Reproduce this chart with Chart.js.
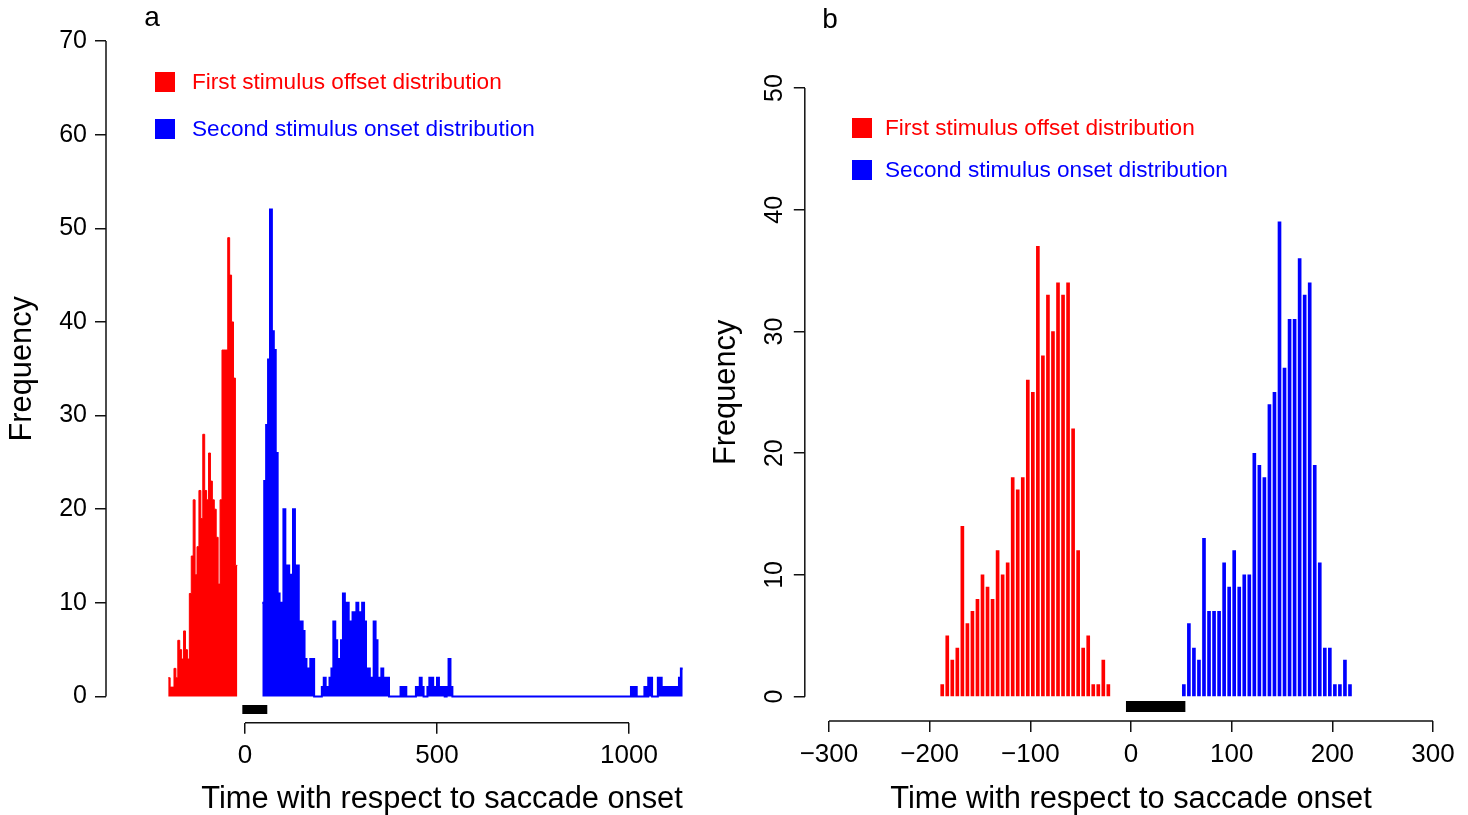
<!DOCTYPE html>
<html><head><meta charset="utf-8">
<script src="https://cdn.jsdelivr.net/npm/chart.js@4.4.1/dist/chart.umd.min.js"></script>
<style>
html,body{margin:0;padding:0;background:#fff;width:1468px;height:815px;overflow:hidden;}
#wa{position:absolute;left:0;top:0;width:700px;height:815px;}
#wb{position:absolute;left:700px;top:0;width:768px;height:815px;}
canvas{display:block;}
</style></head><body>
<div id="wa"><canvas id="ca" width="700" height="815"></canvas></div>
<div id="wb"><canvas id="cb" width="768" height="815"></canvas></div>
<script>
// ---------------- data ----------------
const LABEL_RED = 'First stimulus offset distribution';
const LABEL_BLUE = 'Second stimulus onset distribution';
const X_TITLE = 'Time with respect to saccade onset';
const Y_TITLE = 'Frequency';

// Panel a : histogram, 5 ms bins (left edges start at *_START)
const A_BIN_WIDTH = 5;
const A_RED_START = -200;
const A_RED_COUNTS = [2,1,1,3,2,6,5,4,7,5,4,11,15,21,13,16,22,19,28,22,21,26,23,21,20,17,12,21,37,37,37,49,45,40,34,14];
const A_BLUE_START = 45;
const A_BLUE_COUNTS = [
  10,23,29,36,52,39,37,26,11,10,
  8,20,10,14,13,10,20,13,14,8,
  8,7,4,1,3,4,4,0,0,0,
  0,1,2,1,1,2,3,8,6,4,
  4,6,11,10,10,8,7,9,9,10,
  9,8,10,8,2,3,2,2,8,6,
  2,1,3,2,2,2,0,0,0,0,
  0,0,1,0,1,0,0,0,0,0,
  1,1,2,1,0,0,1,2,2,1,
  1,2,1,1,1,0,1,4,1,0,
  0,0,0,0,0,0,0,0,0,0,
  0,0,0,0,0,0,0,0,0,0,
  0,0,0,0,0,0,0,0,0,0,
  0,0,0,0,0,0,0,0,0,0,
  0,0,0,0,0,0,0,0,0,0,
  0,0,0,0,0,0,0,0,0,0,
  0,0,0,0,0,0,0,0,0,0,
  0,0,0,0,0,0,0,0,0,0,
  0,0,0,0,0,0,0,0,0,0,
  0,0,1,0,1,0,0,0,0,1,
  0,2,2,0,0,0,2,2,1,1,
  1,1,1,1,1,1,1,2,3
];
const A_SACCADE = [-7, 58];
const A_X_TICKS = [0, 500, 1000];
const A_Y_TICKS = [0, 10, 20, 30, 40, 50, 60, 70];

// Panel b : histogram drawn as spikes, 5 ms bins (bin centres start at *_FIRST)
const B_BIN_WIDTH = 5;
const B_RED_FIRST = -187.5;
const B_RED_COUNTS = [1,5,3,4,14,6,7,8,10,9,8,12,10,11,18,17,18,26,25,37,28,33,30,34,33,34,22,12,4,5,1,1,3,1];
const B_BLUE_FIRST = 52.5;
const B_BLUE_COUNTS = [1,6,4,3,13,7,7,7,11,9,12,9,10,10,20,19,18,24,25,39,27,31,31,36,33,34,19,11,4,4,1,1,3,1];
const B_SACCADE = [-5, 54];
const B_X_TICKS = [-300, -200, -100, 0, 100, 200, 300];
const B_Y_TICKS = [0, 10, 20, 30, 40, 50];

// ---------------- styling ----------------
const FONT = '"Liberation Sans", Arial, Helvetica, sans-serif';
const AXIS_COLOR = '#111';
const RED = '#ff0000';
const BLUE = '#0000ff';

function stepPoints(start, width, counts) {
  const pts = counts.map((c, i) => ({x: start + i * width, y: c}));
  pts.push({x: start + counts.length * width, y: counts[counts.length - 1]});
  return pts;
}
function spikePoints(first, width, counts) {
  return counts.map((c, i) => ({x: first + i * width, y: c}));
}
function fmt(v) { return v < 0 ? '\u2212' + Math.abs(v) : String(v); }

const rStyle = {
  id: 'rStyle',
  afterDraw(chart, args, o) {
    const {ctx, chartArea: ca, scales: {x, y}} = chart;
    ctx.save();
    ctx.strokeStyle = AXIS_COLOR;
    ctx.lineWidth = 1.5;
    const xt = x.ticks.map(t => t.value), yt = y.ticks.map(t => t.value);
    ctx.beginPath();
    ctx.moveTo(x.getPixelForValue(xt[0]), ca.bottom);
    ctx.lineTo(x.getPixelForValue(xt[xt.length - 1]), ca.bottom);
    ctx.moveTo(ca.left, y.getPixelForValue(yt[0]));
    ctx.lineTo(ca.left, y.getPixelForValue(yt[yt.length - 1]));
    ctx.stroke();
    ctx.fillStyle = '#000';
    ctx.font = '28px ' + FONT;
    ctx.textAlign = 'center';
    ctx.textBaseline = 'middle';
    ctx.fillText(o.letter, o.letterX, o.letterY);
    ctx.font = '22.6px ' + FONT;
    ctx.textAlign = 'left';
    let yy = o.legendY;
    chart.data.datasets.forEach(d => {
      if (!d.label) return;
      ctx.fillStyle = d.backgroundColor;
      ctx.fillRect(o.legendX, yy - o.box / 2, o.box, o.box);
      ctx.fillText(d.label, o.legendX + o.textOffset, yy + 1);
      yy += o.legendGap;
    });
    ctx.restore();
  }
};

function xScale(min, max, ticks, height, align) {
  return {
    type: 'linear', min, max, offset: false,
    afterBuildTicks: s => { s.ticks = ticks.map(v => ({value: v})); },
    afterFit: s => { s.height = height; },
    border: {display: false},
    grid: {display: true, drawOnChartArea: false, drawTicks: true, tickLength: 11, color: AXIS_COLOR, lineWidth: 1.5, offset: false},
    ticks: {autoSkip: false, maxRotation: 0, minRotation: 0, padding: 7, color: '#000', font: {family: FONT, size: 26}, callback: v => fmt(v)},
    title: {display: true, text: X_TITLE, align, color: '#000', font: {family: FONT, size: 30.8}, padding: {top: 0, bottom: -3}}
  };
}
function yScale(min, max, ticks, width, rotated, titlePad) {
  return {
    type: 'linear', min, max,
    afterBuildTicks: s => { s.ticks = ticks.map(v => ({value: v})); },
    afterFit: s => { s.width = width; },
    border: {display: false},
    grid: {display: true, drawOnChartArea: false, drawTicks: true, tickLength: 11, color: AXIS_COLOR, lineWidth: 1.5},
    ticks: rotated
      ? {autoSkip: false, minRotation: 90, maxRotation: 90, crossAlign: 'center', padding: 5, color: '#000', font: {family: FONT, size: 25, lineHeight: 0.5}, callback: v => fmt(v)}
      : {autoSkip: false, padding: 8, color: '#000', font: {family: FONT, size: 25, lineHeight: 0.5}, callback: v => fmt(v)},
    title: {display: true, text: Y_TITLE, color: '#000', font: {family: FONT, size: 30.8}, padding: {top: titlePad, bottom: 0}}
  };
}

// ---------------- panel a ----------------
new Chart(document.getElementById('ca'), {
  type: 'line',
  data: {
    datasets: [
      {label: LABEL_RED, data: stepPoints(A_RED_START, A_BIN_WIDTH, A_RED_COUNTS), stepped: true, fill: 'origin',
       backgroundColor: RED, borderColor: RED, borderWidth: 1, pointRadius: 0, tension: 0},
      {label: LABEL_BLUE, data: stepPoints(A_BLUE_START, A_BIN_WIDTH, A_BLUE_COUNTS), stepped: true, fill: 'origin',
       backgroundColor: BLUE, borderColor: BLUE, borderWidth: 2, pointRadius: 0, tension: 0},
      {label: '', data: A_SACCADE.map(v => ({x: v, y: -1.4})), borderColor: '#000', backgroundColor: '#000',
       borderWidth: 9, borderCapStyle: 'butt', pointRadius: 0, fill: false}
    ]
  },
  options: {
    responsive: false, animation: false, devicePixelRatio: 1,
    layout: {autoPadding: false, padding: {top: 14.8, left: 0, right: 17.2, bottom: 0}},
    plugins: {legend: {display: false}, tooltip: {enabled: false},
      rStyle: {letter: 'a', letterX: 152, letterY: 18, legendX: 155, legendY: 82, legendGap: 47, box: 20, textOffset: 37}},
    scales: {
      x: xScale(-362, 1140, A_X_TICKS, 815 - 722.7, 'end'),
      y: yScale(-2.8, 72.8, A_Y_TICKS, 106, false, 4)
    }
  },
  plugins: [rStyle]
});

// ---------------- panel b ----------------
new Chart(document.getElementById('cb'), {
  type: 'bar',
  data: {
    datasets: [
      {label: LABEL_RED, data: spikePoints(B_RED_FIRST, B_BIN_WIDTH, B_RED_COUNTS), backgroundColor: RED,
       barThickness: 3, grouped: false, borderWidth: 0},
      {label: LABEL_BLUE, data: spikePoints(B_BLUE_FIRST, B_BIN_WIDTH, B_BLUE_COUNTS), backgroundColor: BLUE,
       barThickness: 3, grouped: false, borderWidth: 0},
      {type: 'line', label: '', data: B_SACCADE.map(v => ({x: v, y: -0.8})), borderColor: '#000', backgroundColor: '#000',
       borderWidth: 11, borderCapStyle: 'butt', pointRadius: 0, fill: false}
    ]
  },
  options: {
    responsive: false, animation: false, devicePixelRatio: 1,
    layout: {autoPadding: false, padding: {top: 63.7, left: 0, right: 10.8, bottom: 0}},
    plugins: {legend: {display: false}, tooltip: {enabled: false},
      rStyle: {letter: 'b', letterX: 130, letterY: 20, legendX: 152, legendY: 128, legendGap: 42, box: 20, textOffset: 33}},
    scales: {
      x: xScale(-324, 324, B_X_TICKS, 815 - 721, 'center'),
      y: yScale(-2, 52, B_Y_TICKS, 104.8, true, 8)
    }
  },
  plugins: [rStyle]
});
</script>
</body></html>
